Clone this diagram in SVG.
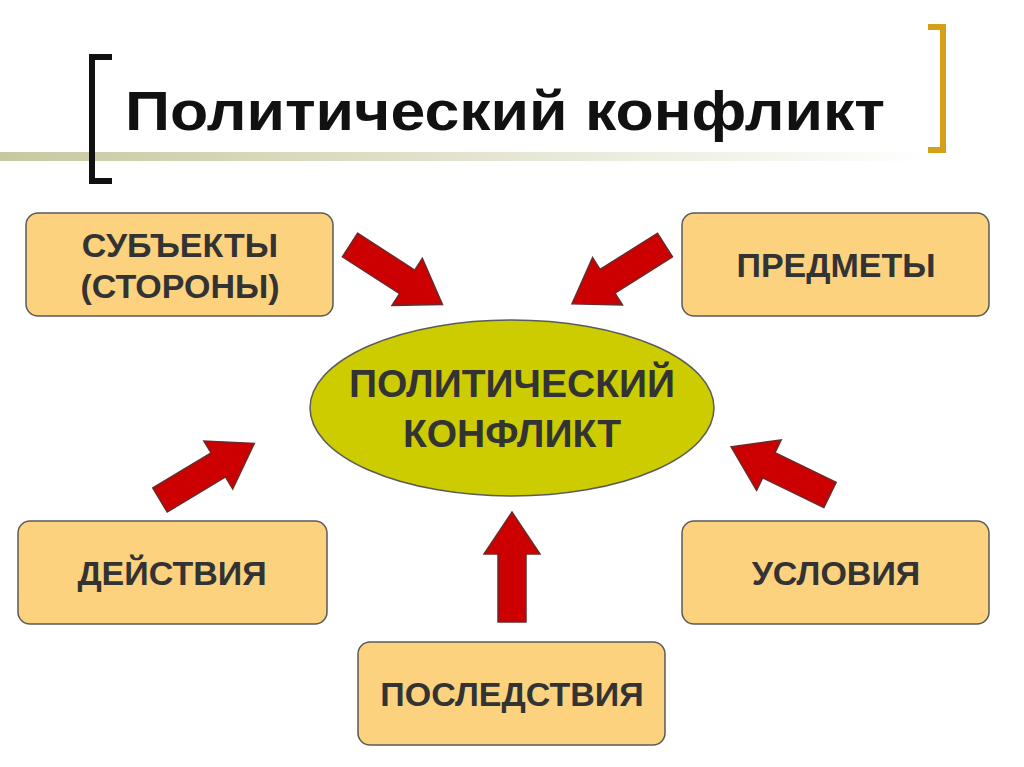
<svg xmlns="http://www.w3.org/2000/svg" width="1024" height="767" viewBox="0 0 1024 767">
<style>
.box{fill:#fcd27e;stroke:#5a5a5a;stroke-width:1.5}
.lbl{font-family:"Liberation Sans",Arial,sans-serif;font-weight:bold;font-size:34px;fill:#333;text-anchor:middle}
.arr{fill:#cc0000;stroke:#6a2a2a;stroke-width:1.5}
</style>
<defs>
<linearGradient id="g" x1="0" x2="1" y1="0" y2="0">
<stop offset="0" stop-color="#c8c8a0"/><stop offset="1" stop-color="#c8c8a0" stop-opacity="0"/>
</linearGradient>
<path id="a" d="M0,-14 L68,-14 L68,-28 L110,0 L68,28 L68,14 L0,14 Z"/>
</defs>
<rect width="1024" height="767" fill="#fff"/>
<rect x="0" y="152" width="940" height="9" fill="url(#g)"/>
<path d="M112,57 H92 V181 H112" fill="none" stroke="#111" stroke-width="6"/>
<path d="M928,27 H943 V150 H928" fill="none" stroke="#d4a017" stroke-width="6"/>
<text x="125" y="130" font-family="Liberation Sans,Arial,sans-serif" font-weight="bold" font-size="56" fill="#111" textLength="760" lengthAdjust="spacingAndGlyphs">Политический конфликт</text>
<g id="connectors">
<use href="#a" class="arr" transform="translate(350,245) rotate(32.8)"/>
<use href="#a" class="arr" transform="translate(665,245) rotate(147.7)"/>
<use href="#a" class="arr" transform="translate(160,500) rotate(-31)"/>
<use href="#a" class="arr" transform="translate(830,495) rotate(-154)"/>
<use href="#a" class="arr" transform="translate(512,622) rotate(-90)"/>
</g>
<g id="center"><ellipse cx="512" cy="408" rx="202" ry="88" fill="#cccc00" stroke="#5a5a5a" stroke-width="1.5"/>
<text class="lbl" x="512" y="397" style="font-size:39px">ПОЛИТИЧЕСКИЙ</text>
<text class="lbl" x="512" y="447" style="font-size:39px">КОНФЛИКТ</text></g>
<g id="subj"><rect class="box" x="26" y="213" width="307" height="103" rx="12"/>
<text class="lbl" x="180" y="257">СУБЪЕКТЫ</text><text class="lbl" x="180" y="298">(СТОРОНЫ)</text></g>
<g id="pred"><rect class="box" x="682" y="213" width="307" height="103" rx="12"/>
<text class="lbl" x="836" y="277">ПРЕДМЕТЫ</text></g>
<g id="deist"><rect class="box" x="18" y="521" width="309" height="103" rx="12"/>
<text class="lbl" x="172" y="585">ДЕЙСТВИЯ</text></g>
<g id="uslov"><rect class="box" x="682" y="521" width="307" height="103" rx="12"/>
<text class="lbl" x="836" y="585">УСЛОВИЯ</text></g>
<g id="posl"><rect class="box" x="358" y="642" width="307" height="103" rx="12"/>
<text class="lbl" x="512" y="706">ПОСЛЕДСТВИЯ</text></g>
</svg>
